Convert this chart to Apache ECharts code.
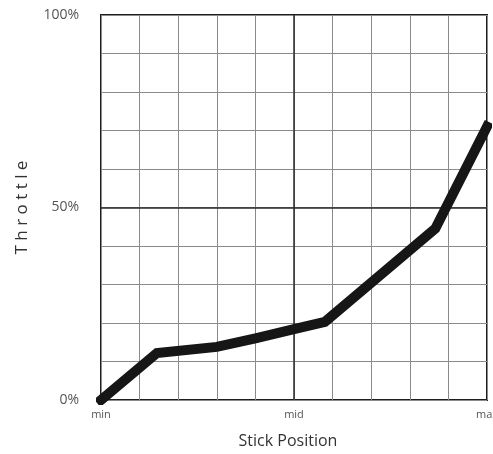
<!DOCTYPE html>
<html>
<head>
<meta charset="utf-8">
<script src="https://cdn.jsdelivr.net/npm/echarts@6/dist/echarts.min.js"></script>
<style>
  html, body { margin: 0; padding: 0; background: #fff; }
  #chart { width: 493px; height: 454px; }
</style>
</head>
<body>
<div id="chart"></div>
<script>
// Stick travel (0 = min, 5 = mid, 10 = max) and throttle output in percent
const stickPos = [0, 1.45, 3, 4, 5, 5.8, 8.66, 10];
const throttle = [0, 12.2, 13.8, 16, 18.4, 20.3, 44.5, 71];

// Tick labels along each axis
const xTickValues = [0, 5, 10];
const xTickLabels = ['min', 'mid', 'max'];
const yTickValues = [0, 50, 100];
const yTickLabels = ['0%', '50%', '100%'];

const FONT = '"Open Sans", "DejaVu Sans", sans-serif';

const chart = echarts.init(document.getElementById('chart'), null, { renderer: 'canvas' });

const curve = stickPos.map((x, i) => [x, throttle[i]]);

chart.setOption({
  animation: false,
  backgroundColor: '#ffffff',
  grid: {
    left: 101, right: 6, top: 15, bottom: 54,
    containLabel: false,
    outerBoundsMode: 'none',
    show: true,
    borderColor: '#1e1e1e',
    borderWidth: 2,
    backgroundColor: 'transparent'
  },
  xAxis: {
    type: 'value',
    min: 0, max: 10, interval: 1,
    name: 'Stick Position',
    nameLocation: 'middle',
    nameGap: 33,
    nameTextStyle: { fontFamily: FONT, fontSize: 16, color: '#333', padding: [0, 12, 0, 0] },
    axisLine: { show: false },
    axisTick: { show: false },
    axisLabel: {
      show: true,
      margin: 9,
      alignMinLabel: 'center',
      alignMaxLabel: 'center',
      hideOverlap: false,
      fontFamily: FONT, fontSize: 11, color: '#555',
      formatter: v => {
        const i = xTickValues.indexOf(v);
        return i >= 0 ? xTickLabels[i] : '';
      }
    },
    splitLine: { show: true, lineStyle: { color: '#8a8a8a', width: 1 } }
  },
  yAxis: {
    type: 'value',
    min: 0, max: 100, interval: 10,
    name: 'T h r o t t l e',
    nameLocation: 'middle',
    nameGap: 70,
    nameRotate: 90,
    nameTextStyle: { fontFamily: FONT, fontSize: 17, color: '#333' },
    axisLine: { show: false },
    axisTick: { show: false },
    axisLabel: {
      show: true,
      margin: 22,
      fontFamily: FONT, fontSize: 14, color: '#555',
      formatter: v => {
        const i = yTickValues.indexOf(v);
        return i >= 0 ? yTickLabels[i] : '';
      }
    },
    splitLine: { show: true, lineStyle: { color: '#8a8a8a', width: 1 } }
  },
  series: [{
    type: 'line',
    data: curve,
    symbol: 'none',
    lineStyle: { color: '#161616', width: 10, cap: 'square', join: 'miter' },
    z: 5,
    markLine: {
      silent: true,
      symbol: 'none',
      label: { show: false },
      lineStyle: { color: '#2a2a2a', width: 1.5, type: 'solid' },
      data: [{ xAxis: 5 }, { yAxis: 50 }],
      z: 1
    }
  }]
});
</script>
</body>
</html>
